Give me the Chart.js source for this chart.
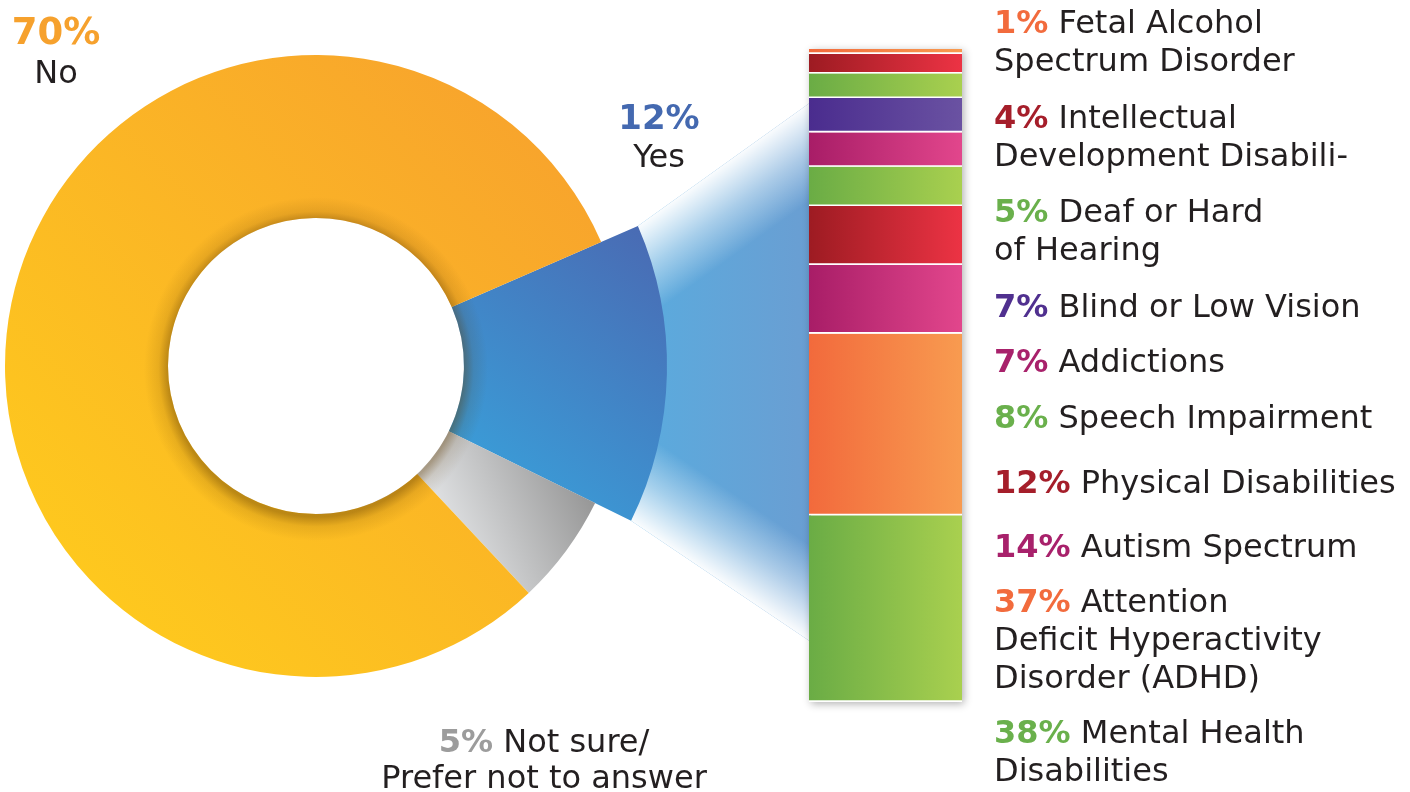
<!DOCTYPE html>
<html>
<head>
<meta charset="utf-8">
<script src="https://cdn.jsdelivr.net/npm/chart.js@4.4.1/dist/chart.umd.min.js"></script>
<style>
html,body{margin:0;padding:0;background:#fff;}
body{width:1410px;height:792px;position:relative;overflow:hidden;font-family:"DejaVu Sans",sans-serif;color:#231f20;}
#donut{position:absolute;left:0;top:0;}
#bar{position:absolute;left:809px;top:49px;box-shadow:2px 2px 8px rgba(0,0,0,0.30);}
.t{position:absolute;white-space:nowrap;}
.t b{font-weight:bold;}
</style>
</head>
<body>
<canvas id="donut" width="1410" height="792"></canvas>
<canvas id="bar" width="153" height="653"></canvas>
<script>
// ---------- data ----------
const donutLabels = ['Yes', 'Not sure/\nPrefer not to answer', 'No'];
const donutValues = [12, 5, 70];

// listed top to bottom as in the legend
const conditionLabels = [
  'Fetal Alcohol\nSpectrum Disorder',
  'Intellectual\nDevelopment Disabili-',
  'Deaf or Hard\nof Hearing',
  'Blind or Low Vision',
  'Addictions',
  'Speech Impairment',
  'Physical Disabilities',
  'Autism Spectrum',
  'Attention\nDeficit Hyperactivity\nDisorder (ADHD)',
  'Mental Health\nDisabilities'
];
const conditionValues = [1, 4, 5, 7, 7, 8, 12, 14, 37, 38];

// ---------- styles ----------
const conditionPalette = ['orange','red','green','purple','magenta','green','red','magenta','orange','green'];
const palettes = {
  orange:  {from:'#f26a3c', to:'#f89b50', text:'#f26b3d'},
  red:     {from:'#9d1b22', to:'#ec3344', text:'#a51e2a'},
  green:   {from:'#6aac45', to:'#a9d04f', text:'#6ab04c'},
  purple:  {from:'#4a2c8e', to:'#6a52a2', text:'#50308f'},
  magenta: {from:'#a81d67', to:'#e2468c', text:'#a8216b'}
};
const donutTextColors = ['#4469b0', '#9c9c9c', '#f6a12d'];

// ---------- layout ----------
const legendX = 994;
const legendBaselines = [33, 128, 222, 317, 372, 428, 493, 557, 612, 743];
const legendSize = 32, legendLine = 38;

// ---------- stacked bar ----------
const barCanvas = document.getElementById('bar');
const total = conditionValues.reduce((a, b) => a + b, 0);
const order = conditionLabels.map((_, i) => i).reverse(); // bottom first
const barChart = new Chart(barCanvas, {
  type: 'bar',
  data: {
    labels: [''],
    datasets: order.map(i => ({
      label: conditionLabels[i].replace(/\n/g, ' '),
      data: [conditionValues[i]],
      backgroundColor: (c) => {
        const p = palettes[conditionPalette[i]];
        const ca = c.chart.chartArea;
        if (!ca) return p.from;
        const g = c.chart.ctx.createLinearGradient(ca.left, 0, ca.right, 0);
        g.addColorStop(0, p.from); g.addColorStop(1, p.to);
        return g;
      },
      borderColor: '#ffffff',
      borderWidth: {top: 0, left: 0, right: 0, bottom: 2},
      borderSkipped: false,
      barPercentage: 1,
      categoryPercentage: 1
    }))
  },
  options: {
    responsive: false, animation: false, devicePixelRatio: 1, events: [],
    layout: {padding: 0},
    plugins: {legend: {display: false}, tooltip: {enabled: false}},
    scales: {
      x: {stacked: true, display: false},
      y: {stacked: true, display: false, min: 0, max: total}
    }
  }
});

// ---------- doughnut ----------
function donutFill(c) {
  const ca = c.chart.chartArea;
  if (!ca) return '#f9b233';
  const cx = (ca.left + ca.right) / 2, cy = (ca.top + ca.bottom) / 2, ctx = c.chart.ctx;
  let g;
  if (c.dataIndex === 0) {
    g = ctx.createLinearGradient(cx + 140, cy + 90, cx + 330, cy - 150);
    g.addColorStop(0, '#3a9dd8'); g.addColorStop(1, '#4a69b2');
  } else if (c.dataIndex === 1) {
    g = ctx.createLinearGradient(cx + 110, cy + 190, cx + 270, cy + 120);
    g.addColorStop(0, '#eef0f2'); g.addColorStop(1, '#979797');
  } else {
    g = ctx.createLinearGradient(cx + 220, cy - 220, cx - 220, cy + 220);
    g.addColorStop(0, '#f8a52c'); g.addColorStop(1, '#fec81e');
  }
  return g;
}

const bigSlice = {
  id: 'bigSlice',
  afterDatasetsUpdate(chart) {
    const arc = chart.getDatasetMeta(0).data[0];
    arc.outerRadius = arc.outerRadius + 40;
  }
};

const funnel = {
  id: 'funnel',
  beforeDatasetsDraw(chart) {
    const arc = chart.getDatasetMeta(0).data[0];
    const ctx = chart.ctx;
    const R = arc.outerRadius;
    const P1 = {x: arc.x + R * Math.cos(arc.startAngle), y: arc.y + R * Math.sin(arc.startAngle)};
    const P2 = {x: arc.x + R * Math.cos(arc.endAngle), y: arc.y + R * Math.sin(arc.endAngle)};
    const bx = barCanvas.offsetLeft + 2, by = barCanvas.offsetTop, bh = barCanvas.height;
    const Q1 = {x: bx, y: by + 0.081 * bh};
    const Q2 = {x: bx, y: by + 0.908 * bh};
    ctx.save();
    ctx.beginPath();
    ctx.moveTo(P1.x, P1.y); ctx.lineTo(Q1.x, Q1.y); ctx.lineTo(Q2.x, Q2.y); ctx.lineTo(P2.x, P2.y);
    ctx.closePath();
    ctx.clip();
    const base = ctx.createLinearGradient(P1.x, 0, bx, 0);
    base.addColorStop(0, '#5aabde'); base.addColorStop(1, '#6a9ed2');
    ctx.fillStyle = base;
    ctx.fillRect(P1.x - 20, Q1.y - 10, bx - P1.x + 40, Q2.y - Q1.y + 20);
    const cen = {x: (P1.x + P2.x + Q1.x + Q2.x) / 4, y: (P1.y + P2.y + Q1.y + Q2.y) / 4};
    [[P1, Q1], [P2, Q2]].forEach(([A, B]) => {
      const dx = B.x - A.x, dy = B.y - A.y, L = Math.hypot(dx, dy);
      let nx = -dy / L, ny = dx / L;
      const mx = (A.x + B.x) / 2, my = (A.y + B.y) / 2;
      if ((cen.x - mx) * nx + (cen.y - my) * ny < 0) { nx = -nx; ny = -ny; }
      const g = ctx.createLinearGradient(mx, my, mx + nx * 80, my + ny * 80);
      g.addColorStop(0, 'rgba(255,255,255,0.97)');
      g.addColorStop(0.5, 'rgba(255,255,255,0.45)');
      g.addColorStop(1, 'rgba(255,255,255,0)');
      ctx.fillStyle = g;
      ctx.fillRect(P1.x - 20, Q1.y - 10, bx - P1.x + 40, Q2.y - Q1.y + 20);
    });
    ctx.restore();
  }
};

const holeShadow = {
  id: 'holeShadow',
  afterDatasetsDraw(chart) {
    const arc = chart.getDatasetMeta(0).data[2];
    const ctx = chart.ctx, r0 = arc.innerRadius, r1 = r0 + 24;
    ctx.save();
    const g = ctx.createRadialGradient(arc.x, arc.y + 3, r0, arc.x, arc.y + 3, r1);
    g.addColorStop(0, 'rgba(90,55,0,0.40)');
    g.addColorStop(0.4, 'rgba(90,55,0,0.12)');
    g.addColorStop(1, 'rgba(90,55,0,0)');
    ctx.beginPath();
    ctx.arc(arc.x, arc.y, r1 + 4, 0, Math.PI * 2);
    ctx.arc(arc.x, arc.y, r0, 0, Math.PI * 2, true);
    ctx.fillStyle = g;
    ctx.fill();
    ctx.restore();
  }
};

const donutChart = new Chart(document.getElementById('donut'), {
  type: 'doughnut',
  data: {
    labels: donutLabels.map(s => s.replace(/\n/g, ' ')),
    datasets: [{data: donutValues, backgroundColor: donutFill, borderWidth: 0, clip: false}]
  },
  options: {
    responsive: false, animation: false, devicePixelRatio: 1, events: [],
    rotation: 66.5,
    radius: 311,
    cutout: (148 / 311 * 100) + '%',
    layout: {padding: {left: 0, top: 0, right: 778, bottom: 60}},
    plugins: {legend: {display: false}, tooltip: {enabled: false}}
  },
  plugins: [bigSlice, funnel, holeShadow]
});

// ---------- text ----------
function addText(lines, x, baseline, size, lh, align) {
  const d = document.createElement('div');
  d.className = 't';
  d.style.fontSize = size + 'px';
  d.style.lineHeight = lh + 'px';
  const off = (lh - 1.164 * size) / 2 + 0.928 * size;
  d.style.top = (baseline - off) + 'px';
  d.style.left = x + 'px';
  if (align === 'center') { d.style.transform = 'translateX(-50%)'; d.style.textAlign = 'center'; }
  lines.forEach((parts, li) => {
    if (li > 0) d.appendChild(document.createElement('br'));
    parts.forEach(p => {
      if (p.bold) {
        const b = document.createElement('b');
        b.textContent = p.text; b.style.color = p.color;
        if (p.size) b.style.fontSize = p.size + 'px';
        d.appendChild(b);
      } else {
        d.appendChild(document.createTextNode(p.text));
      }
    });
  });
  document.body.appendChild(d);
}

conditionLabels.forEach((lab, i) => {
  const ls = lab.split('\n');
  const lines = ls.map((s, k) => k === 0
    ? [{text: conditionValues[i] + '%', bold: true, color: palettes[conditionPalette[i]].text}, {text: ' ' + s}]
    : [{text: s}]);
  addText(lines, legendX, legendBaselines[i], legendSize, legendLine, 'left');
});

// No
addText([[{text: donutValues[2] + '%', bold: true, color: donutTextColors[2]}]], 56, 45, 37, 44, 'center');
addText([[{text: donutLabels[2]}]], 56, 83, 32, 38, 'center');
// Yes
addText([[{text: donutValues[0] + '%', bold: true, color: donutTextColors[0]}]], 659, 129, 34, 40, 'center');
addText([[{text: donutLabels[0]}]], 659, 167, 32, 38, 'center');
// Not sure
const ns = donutLabels[1].split('\n');
addText([
  [{text: donutValues[1] + '%', bold: true, color: donutTextColors[1]}, {text: ' ' + ns[0]}],
  [{text: ns[1]}]
], 544, 752, 32, 36, 'center');
</script>
</body>
</html>
